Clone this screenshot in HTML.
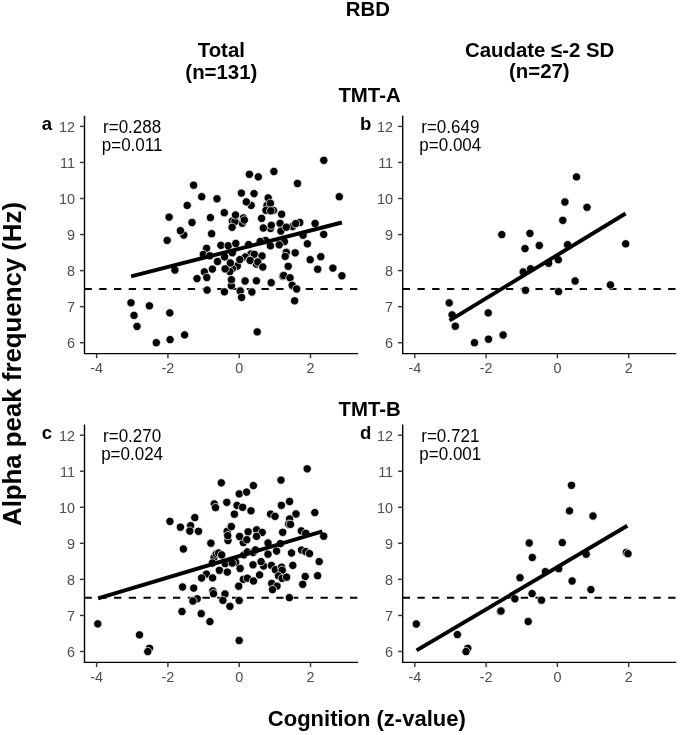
<!DOCTYPE html><html><head><meta charset="utf-8"><style>
html,body{margin:0;padding:0;background:#fff;}
body{width:685px;height:735px;overflow:hidden;}
svg{display:block;will-change:transform;}
text{font-family:"Liberation Sans",sans-serif;}
.t{font-size:14.4px;fill:#4d4d4d;}
.ty{text-anchor:end;}
.tx{text-anchor:middle;}
.ann{font-size:17.0px;fill:#000;text-anchor:middle;}
.hd{font-size:20.4px;font-weight:bold;fill:#000;text-anchor:middle;}
.pl{font-size:18.6px;font-weight:bold;fill:#000;}
</style></head><body>
<svg width="685" height="735" viewBox="0 0 685 735">
<text class="hd" transform="translate(367.90 16.40) scale(1 1.03)" x="0" y="0">RBD</text>
<text class="hd" transform="translate(221.30 56.90) scale(1 1.03)" x="0" y="0">Total</text>
<text class="hd" transform="translate(221.30 78.80) scale(1 1.03)" x="0" y="0">(n=131)</text>
<text class="hd" transform="translate(539.60 56.60) scale(1 1.03)" x="0" y="0">Caudate ≤-2 SD</text>
<text class="hd" transform="translate(539.30 78.30) scale(1 1.03)" x="0" y="0">(n=27)</text>
<text class="hd" transform="translate(369.50 101.90) scale(1 1.03)" x="0" y="0">TMT-A</text>
<text class="hd" transform="translate(369.70 415.70) scale(1 1.03)" x="0" y="0">TMT-B</text>
<text x="21.2" y="364" transform="rotate(-90 21.2 364)" style="font-size:25.8px;font-weight:bold;text-anchor:middle;fill:#000">Alpha peak frequency (Hz)</text>
<text style="font-size:22px;font-weight:bold;text-anchor:middle;fill:#000" transform="translate(366.80 725.60) scale(1 1.03)" x="0" y="0">Cognition (z-value)</text>
<line x1="84.50" y1="288.93" x2="358.10" y2="288.93" stroke="#000" stroke-width="2.0" stroke-dasharray="7.3 7.45"/>
<circle cx="268.6" cy="207.3" r="4.15" fill="#000" stroke="#fff" stroke-width="0.75"/>
<circle cx="267.0" cy="205.5" r="4.15" fill="#000" stroke="#fff" stroke-width="0.75"/>
<circle cx="266.0" cy="210.3" r="4.15" fill="#000" stroke="#fff" stroke-width="0.75"/>
<circle cx="273.4" cy="210.4" r="4.15" fill="#000" stroke="#fff" stroke-width="0.75"/>
<circle cx="299.8" cy="222.5" r="4.15" fill="#000" stroke="#fff" stroke-width="0.75"/>
<circle cx="292.5" cy="226.5" r="4.15" fill="#000" stroke="#fff" stroke-width="0.75"/>
<circle cx="270.5" cy="228.4" r="4.15" fill="#000" stroke="#fff" stroke-width="0.75"/>
<circle cx="284.4" cy="241.6" r="4.15" fill="#000" stroke="#fff" stroke-width="0.75"/>
<circle cx="286.3" cy="252.2" r="4.15" fill="#000" stroke="#fff" stroke-width="0.75"/>
<circle cx="265.6" cy="240.5" r="4.15" fill="#000" stroke="#fff" stroke-width="0.75"/>
<circle cx="251.0" cy="254.0" r="4.15" fill="#000" stroke="#fff" stroke-width="0.75"/>
<circle cx="245.3" cy="257.0" r="4.15" fill="#000" stroke="#fff" stroke-width="0.75"/>
<circle cx="250.0" cy="260.3" r="4.15" fill="#000" stroke="#fff" stroke-width="0.75"/>
<circle cx="256.3" cy="264.0" r="4.15" fill="#000" stroke="#fff" stroke-width="0.75"/>
<circle cx="242.3" cy="223.2" r="4.15" fill="#000" stroke="#fff" stroke-width="0.75"/>
<circle cx="237.3" cy="266.0" r="4.15" fill="#000" stroke="#fff" stroke-width="0.75"/>
<circle cx="232.4" cy="268.6" r="4.15" fill="#000" stroke="#fff" stroke-width="0.75"/>
<circle cx="229.8" cy="271.5" r="4.15" fill="#000" stroke="#fff" stroke-width="0.75"/>
<circle cx="231.4" cy="285.7" r="4.15" fill="#000" stroke="#fff" stroke-width="0.75"/>
<circle cx="282.8" cy="276.2" r="4.15" fill="#000" stroke="#fff" stroke-width="0.75"/>
<circle cx="240.5" cy="290.8" r="4.15" fill="#000" stroke="#fff" stroke-width="0.75"/>
<circle cx="232.3" cy="221.1" r="4.15" fill="#000" stroke="#fff" stroke-width="0.75"/>
<circle cx="243.4" cy="217.9" r="4.15" fill="#000" stroke="#fff" stroke-width="0.75"/>
<circle cx="234.9" cy="221.5" r="4.15" fill="#000" stroke="#fff" stroke-width="0.75"/>
<circle cx="251.2" cy="205.4" r="4.15" fill="#000" stroke="#fff" stroke-width="0.75"/>
<circle cx="183.8" cy="235.0" r="4.15" fill="#000" stroke="#fff" stroke-width="0.75"/>
<circle cx="323.8" cy="160.3" r="4.15" fill="#000" stroke="#fff" stroke-width="0.75"/>
<circle cx="249.4" cy="174.3" r="4.15" fill="#000" stroke="#fff" stroke-width="0.75"/>
<circle cx="258.3" cy="176.9" r="4.15" fill="#000" stroke="#fff" stroke-width="0.75"/>
<circle cx="273.9" cy="171.5" r="4.15" fill="#000" stroke="#fff" stroke-width="0.75"/>
<circle cx="193.6" cy="185.2" r="4.15" fill="#000" stroke="#fff" stroke-width="0.75"/>
<circle cx="297.5" cy="183.5" r="4.15" fill="#000" stroke="#fff" stroke-width="0.75"/>
<circle cx="339.3" cy="196.7" r="4.15" fill="#000" stroke="#fff" stroke-width="0.75"/>
<circle cx="201.7" cy="196.7" r="4.15" fill="#000" stroke="#fff" stroke-width="0.75"/>
<circle cx="217.0" cy="198.8" r="4.15" fill="#000" stroke="#fff" stroke-width="0.75"/>
<circle cx="187.2" cy="205.4" r="4.15" fill="#000" stroke="#fff" stroke-width="0.75"/>
<circle cx="241.4" cy="193.1" r="4.15" fill="#000" stroke="#fff" stroke-width="0.75"/>
<circle cx="254.0" cy="193.6" r="4.15" fill="#000" stroke="#fff" stroke-width="0.75"/>
<circle cx="268.2" cy="197.9" r="4.15" fill="#000" stroke="#fff" stroke-width="0.75"/>
<circle cx="270.4" cy="203.3" r="4.15" fill="#000" stroke="#fff" stroke-width="0.75"/>
<circle cx="270.8" cy="210.8" r="4.15" fill="#000" stroke="#fff" stroke-width="0.75"/>
<circle cx="246.3" cy="201.9" r="4.15" fill="#000" stroke="#fff" stroke-width="0.75"/>
<circle cx="281.6" cy="214.2" r="4.15" fill="#000" stroke="#fff" stroke-width="0.75"/>
<circle cx="224.3" cy="212.7" r="4.15" fill="#000" stroke="#fff" stroke-width="0.75"/>
<circle cx="235.5" cy="215.0" r="4.15" fill="#000" stroke="#fff" stroke-width="0.75"/>
<circle cx="210.4" cy="217.6" r="4.15" fill="#000" stroke="#fff" stroke-width="0.75"/>
<circle cx="169.1" cy="217.1" r="4.15" fill="#000" stroke="#fff" stroke-width="0.75"/>
<circle cx="192.0" cy="222.5" r="4.15" fill="#000" stroke="#fff" stroke-width="0.75"/>
<circle cx="232.1" cy="227.3" r="4.15" fill="#000" stroke="#fff" stroke-width="0.75"/>
<circle cx="244.3" cy="220.1" r="4.15" fill="#000" stroke="#fff" stroke-width="0.75"/>
<circle cx="261.6" cy="218.4" r="4.15" fill="#000" stroke="#fff" stroke-width="0.75"/>
<circle cx="263.3" cy="228.0" r="4.15" fill="#000" stroke="#fff" stroke-width="0.75"/>
<circle cx="271.3" cy="225.3" r="4.15" fill="#000" stroke="#fff" stroke-width="0.75"/>
<circle cx="280.1" cy="223.4" r="4.15" fill="#000" stroke="#fff" stroke-width="0.75"/>
<circle cx="280.9" cy="231.1" r="4.15" fill="#000" stroke="#fff" stroke-width="0.75"/>
<circle cx="286.3" cy="227.2" r="4.15" fill="#000" stroke="#fff" stroke-width="0.75"/>
<circle cx="295.6" cy="223.6" r="4.15" fill="#000" stroke="#fff" stroke-width="0.75"/>
<circle cx="315.1" cy="223.5" r="4.15" fill="#000" stroke="#fff" stroke-width="0.75"/>
<circle cx="303.1" cy="235.2" r="4.15" fill="#000" stroke="#fff" stroke-width="0.75"/>
<circle cx="323.7" cy="234.4" r="4.15" fill="#000" stroke="#fff" stroke-width="0.75"/>
<circle cx="307.4" cy="243.8" r="4.15" fill="#000" stroke="#fff" stroke-width="0.75"/>
<circle cx="180.4" cy="230.7" r="4.15" fill="#000" stroke="#fff" stroke-width="0.75"/>
<circle cx="211.6" cy="233.7" r="4.15" fill="#000" stroke="#fff" stroke-width="0.75"/>
<circle cx="167.2" cy="240.4" r="4.15" fill="#000" stroke="#fff" stroke-width="0.75"/>
<circle cx="206.6" cy="248.3" r="4.15" fill="#000" stroke="#fff" stroke-width="0.75"/>
<circle cx="203.3" cy="254.5" r="4.15" fill="#000" stroke="#fff" stroke-width="0.75"/>
<circle cx="209.8" cy="255.8" r="4.15" fill="#000" stroke="#fff" stroke-width="0.75"/>
<circle cx="220.9" cy="245.3" r="4.15" fill="#000" stroke="#fff" stroke-width="0.75"/>
<circle cx="228.2" cy="245.8" r="4.15" fill="#000" stroke="#fff" stroke-width="0.75"/>
<circle cx="235.8" cy="243.5" r="4.15" fill="#000" stroke="#fff" stroke-width="0.75"/>
<circle cx="248.6" cy="244.6" r="4.15" fill="#000" stroke="#fff" stroke-width="0.75"/>
<circle cx="260.2" cy="241.5" r="4.15" fill="#000" stroke="#fff" stroke-width="0.75"/>
<circle cx="270.4" cy="245.8" r="4.15" fill="#000" stroke="#fff" stroke-width="0.75"/>
<circle cx="279.2" cy="244.8" r="4.15" fill="#000" stroke="#fff" stroke-width="0.75"/>
<circle cx="232.3" cy="252.8" r="4.15" fill="#000" stroke="#fff" stroke-width="0.75"/>
<circle cx="224.6" cy="256.9" r="4.15" fill="#000" stroke="#fff" stroke-width="0.75"/>
<circle cx="217.5" cy="261.5" r="4.15" fill="#000" stroke="#fff" stroke-width="0.75"/>
<circle cx="230.3" cy="263.0" r="4.15" fill="#000" stroke="#fff" stroke-width="0.75"/>
<circle cx="239.8" cy="259.6" r="4.15" fill="#000" stroke="#fff" stroke-width="0.75"/>
<circle cx="254.3" cy="254.3" r="4.15" fill="#000" stroke="#fff" stroke-width="0.75"/>
<circle cx="250.2" cy="260.4" r="4.15" fill="#000" stroke="#fff" stroke-width="0.75"/>
<circle cx="262.0" cy="256.0" r="4.15" fill="#000" stroke="#fff" stroke-width="0.75"/>
<circle cx="257.8" cy="262.0" r="4.15" fill="#000" stroke="#fff" stroke-width="0.75"/>
<circle cx="262.8" cy="267.0" r="4.15" fill="#000" stroke="#fff" stroke-width="0.75"/>
<circle cx="212.4" cy="269.1" r="4.15" fill="#000" stroke="#fff" stroke-width="0.75"/>
<circle cx="204.4" cy="271.9" r="4.15" fill="#000" stroke="#fff" stroke-width="0.75"/>
<circle cx="206.8" cy="277.5" r="4.15" fill="#000" stroke="#fff" stroke-width="0.75"/>
<circle cx="197.0" cy="278.6" r="4.15" fill="#000" stroke="#fff" stroke-width="0.75"/>
<circle cx="225.1" cy="268.9" r="4.15" fill="#000" stroke="#fff" stroke-width="0.75"/>
<circle cx="231.4" cy="279.7" r="4.15" fill="#000" stroke="#fff" stroke-width="0.75"/>
<circle cx="245.1" cy="281.0" r="4.15" fill="#000" stroke="#fff" stroke-width="0.75"/>
<circle cx="256.4" cy="280.8" r="4.15" fill="#000" stroke="#fff" stroke-width="0.75"/>
<circle cx="174.9" cy="270.1" r="4.15" fill="#000" stroke="#fff" stroke-width="0.75"/>
<circle cx="207.1" cy="290.1" r="4.15" fill="#000" stroke="#fff" stroke-width="0.75"/>
<circle cx="224.4" cy="291.8" r="4.15" fill="#000" stroke="#fff" stroke-width="0.75"/>
<circle cx="240.2" cy="291.0" r="4.15" fill="#000" stroke="#fff" stroke-width="0.75"/>
<circle cx="241.6" cy="297.4" r="4.15" fill="#000" stroke="#fff" stroke-width="0.75"/>
<circle cx="251.9" cy="292.0" r="4.15" fill="#000" stroke="#fff" stroke-width="0.75"/>
<circle cx="286.3" cy="252.5" r="4.15" fill="#000" stroke="#fff" stroke-width="0.75"/>
<circle cx="295.2" cy="252.8" r="4.15" fill="#000" stroke="#fff" stroke-width="0.75"/>
<circle cx="285.2" cy="256.4" r="4.15" fill="#000" stroke="#fff" stroke-width="0.75"/>
<circle cx="310.2" cy="259.7" r="4.15" fill="#000" stroke="#fff" stroke-width="0.75"/>
<circle cx="320.8" cy="256.7" r="4.15" fill="#000" stroke="#fff" stroke-width="0.75"/>
<circle cx="288.2" cy="266.3" r="4.15" fill="#000" stroke="#fff" stroke-width="0.75"/>
<circle cx="317.7" cy="269.2" r="4.15" fill="#000" stroke="#fff" stroke-width="0.75"/>
<circle cx="332.9" cy="268.1" r="4.15" fill="#000" stroke="#fff" stroke-width="0.75"/>
<circle cx="341.9" cy="275.8" r="4.15" fill="#000" stroke="#fff" stroke-width="0.75"/>
<circle cx="283.7" cy="275.5" r="4.15" fill="#000" stroke="#fff" stroke-width="0.75"/>
<circle cx="290.0" cy="277.8" r="4.15" fill="#000" stroke="#fff" stroke-width="0.75"/>
<circle cx="271.2" cy="282.7" r="4.15" fill="#000" stroke="#fff" stroke-width="0.75"/>
<circle cx="292.2" cy="285.3" r="4.15" fill="#000" stroke="#fff" stroke-width="0.75"/>
<circle cx="296.7" cy="289.0" r="4.15" fill="#000" stroke="#fff" stroke-width="0.75"/>
<circle cx="294.6" cy="300.8" r="4.15" fill="#000" stroke="#fff" stroke-width="0.75"/>
<circle cx="131.0" cy="302.8" r="4.15" fill="#000" stroke="#fff" stroke-width="0.75"/>
<circle cx="134.0" cy="315.4" r="4.15" fill="#000" stroke="#fff" stroke-width="0.75"/>
<circle cx="137.0" cy="326.4" r="4.15" fill="#000" stroke="#fff" stroke-width="0.75"/>
<circle cx="149.4" cy="305.8" r="4.15" fill="#000" stroke="#fff" stroke-width="0.75"/>
<circle cx="169.8" cy="312.9" r="4.15" fill="#000" stroke="#fff" stroke-width="0.75"/>
<circle cx="156.3" cy="342.7" r="4.15" fill="#000" stroke="#fff" stroke-width="0.75"/>
<circle cx="170.1" cy="339.6" r="4.15" fill="#000" stroke="#fff" stroke-width="0.75"/>
<circle cx="184.6" cy="334.9" r="4.15" fill="#000" stroke="#fff" stroke-width="0.75"/>
<circle cx="257.2" cy="331.9" r="4.15" fill="#000" stroke="#fff" stroke-width="0.75"/>
<line x1="131.1" y1="276.3" x2="341.9" y2="222.5" stroke="#000" stroke-width="3.9"/>
<path d="M84.50 115.80 V353.60 H358.10" fill="none" stroke="#000" stroke-width="1.4"/>
<line x1="79.90" y1="342.70" x2="84.50" y2="342.70" stroke="#333" stroke-width="1.4"/>
<text class="t ty" transform="translate(74.90 348.10) scale(1 1.04)" x="0" y="0">6</text>
<line x1="79.90" y1="306.65" x2="84.50" y2="306.65" stroke="#333" stroke-width="1.4"/>
<text class="t ty" transform="translate(74.90 312.05) scale(1 1.04)" x="0" y="0">7</text>
<line x1="79.90" y1="270.60" x2="84.50" y2="270.60" stroke="#333" stroke-width="1.4"/>
<text class="t ty" transform="translate(74.90 276.00) scale(1 1.04)" x="0" y="0">8</text>
<line x1="79.90" y1="234.55" x2="84.50" y2="234.55" stroke="#333" stroke-width="1.4"/>
<text class="t ty" transform="translate(74.90 239.95) scale(1 1.04)" x="0" y="0">9</text>
<line x1="79.90" y1="198.50" x2="84.50" y2="198.50" stroke="#333" stroke-width="1.4"/>
<text class="t ty" transform="translate(74.90 203.90) scale(1 1.04)" x="0" y="0">10</text>
<line x1="79.90" y1="162.45" x2="84.50" y2="162.45" stroke="#333" stroke-width="1.4"/>
<text class="t ty" transform="translate(74.90 167.85) scale(1 1.04)" x="0" y="0">11</text>
<line x1="79.90" y1="126.40" x2="84.50" y2="126.40" stroke="#333" stroke-width="1.4"/>
<text class="t ty" transform="translate(74.90 131.80) scale(1 1.04)" x="0" y="0">12</text>
<line x1="96.60" y1="353.60" x2="96.60" y2="358.20" stroke="#333" stroke-width="1.4"/>
<text class="t tx" transform="translate(96.60 373.20) scale(1 1.04)" x="0" y="0">-4</text>
<line x1="167.90" y1="353.60" x2="167.90" y2="358.20" stroke="#333" stroke-width="1.4"/>
<text class="t tx" transform="translate(167.90 373.20) scale(1 1.04)" x="0" y="0">-2</text>
<line x1="239.20" y1="353.60" x2="239.20" y2="358.20" stroke="#333" stroke-width="1.4"/>
<text class="t tx" transform="translate(239.20 373.20) scale(1 1.04)" x="0" y="0">0</text>
<line x1="310.50" y1="353.60" x2="310.50" y2="358.20" stroke="#333" stroke-width="1.4"/>
<text class="t tx" transform="translate(310.50 373.20) scale(1 1.04)" x="0" y="0">2</text>
<text class="ann" transform="translate(132.10 132.80) scale(1 1.04)" x="0" y="0">r=0.288</text>
<text class="ann" transform="translate(132.10 150.80) scale(1 1.04)" x="0" y="0">p=0.011</text>
<text class="pl" x="41.70" y="130.30">a</text>
<line x1="402.70" y1="288.93" x2="676.30" y2="288.93" stroke="#000" stroke-width="2.0" stroke-dasharray="7.3 7.45"/>
<circle cx="449.2" cy="302.9" r="4.15" fill="#000" stroke="#fff" stroke-width="0.75"/>
<circle cx="452.1" cy="314.9" r="4.15" fill="#000" stroke="#fff" stroke-width="0.75"/>
<circle cx="455.3" cy="326.2" r="4.15" fill="#000" stroke="#fff" stroke-width="0.75"/>
<circle cx="488.2" cy="312.9" r="4.15" fill="#000" stroke="#fff" stroke-width="0.75"/>
<circle cx="474.5" cy="342.7" r="4.15" fill="#000" stroke="#fff" stroke-width="0.75"/>
<circle cx="488.5" cy="339.2" r="4.15" fill="#000" stroke="#fff" stroke-width="0.75"/>
<circle cx="503.1" cy="335.0" r="4.15" fill="#000" stroke="#fff" stroke-width="0.75"/>
<circle cx="501.8" cy="234.6" r="4.15" fill="#000" stroke="#fff" stroke-width="0.75"/>
<circle cx="529.9" cy="233.4" r="4.15" fill="#000" stroke="#fff" stroke-width="0.75"/>
<circle cx="525.0" cy="248.6" r="4.15" fill="#000" stroke="#fff" stroke-width="0.75"/>
<circle cx="539.3" cy="245.5" r="4.15" fill="#000" stroke="#fff" stroke-width="0.75"/>
<circle cx="523.2" cy="272.0" r="4.15" fill="#000" stroke="#fff" stroke-width="0.75"/>
<circle cx="530.6" cy="268.8" r="4.15" fill="#000" stroke="#fff" stroke-width="0.75"/>
<circle cx="548.6" cy="263.2" r="4.15" fill="#000" stroke="#fff" stroke-width="0.75"/>
<circle cx="558.3" cy="259.7" r="4.15" fill="#000" stroke="#fff" stroke-width="0.75"/>
<circle cx="525.5" cy="290.3" r="4.15" fill="#000" stroke="#fff" stroke-width="0.75"/>
<circle cx="558.6" cy="291.6" r="4.15" fill="#000" stroke="#fff" stroke-width="0.75"/>
<circle cx="576.5" cy="176.9" r="4.15" fill="#000" stroke="#fff" stroke-width="0.75"/>
<circle cx="564.9" cy="202.0" r="4.15" fill="#000" stroke="#fff" stroke-width="0.75"/>
<circle cx="587.0" cy="207.3" r="4.15" fill="#000" stroke="#fff" stroke-width="0.75"/>
<circle cx="562.8" cy="220.3" r="4.15" fill="#000" stroke="#fff" stroke-width="0.75"/>
<circle cx="567.6" cy="244.7" r="4.15" fill="#000" stroke="#fff" stroke-width="0.75"/>
<circle cx="625.7" cy="243.8" r="4.15" fill="#000" stroke="#fff" stroke-width="0.75"/>
<circle cx="575.1" cy="281.0" r="4.15" fill="#000" stroke="#fff" stroke-width="0.75"/>
<circle cx="610.4" cy="284.9" r="4.15" fill="#000" stroke="#fff" stroke-width="0.75"/>
<line x1="449.5" y1="320.6" x2="625.6" y2="213.5" stroke="#000" stroke-width="3.9"/>
<path d="M402.70 115.80 V353.60 H676.30" fill="none" stroke="#000" stroke-width="1.4"/>
<line x1="398.10" y1="342.70" x2="402.70" y2="342.70" stroke="#333" stroke-width="1.4"/>
<text class="t ty" transform="translate(393.10 348.10) scale(1 1.04)" x="0" y="0">6</text>
<line x1="398.10" y1="306.65" x2="402.70" y2="306.65" stroke="#333" stroke-width="1.4"/>
<text class="t ty" transform="translate(393.10 312.05) scale(1 1.04)" x="0" y="0">7</text>
<line x1="398.10" y1="270.60" x2="402.70" y2="270.60" stroke="#333" stroke-width="1.4"/>
<text class="t ty" transform="translate(393.10 276.00) scale(1 1.04)" x="0" y="0">8</text>
<line x1="398.10" y1="234.55" x2="402.70" y2="234.55" stroke="#333" stroke-width="1.4"/>
<text class="t ty" transform="translate(393.10 239.95) scale(1 1.04)" x="0" y="0">9</text>
<line x1="398.10" y1="198.50" x2="402.70" y2="198.50" stroke="#333" stroke-width="1.4"/>
<text class="t ty" transform="translate(393.10 203.90) scale(1 1.04)" x="0" y="0">10</text>
<line x1="398.10" y1="162.45" x2="402.70" y2="162.45" stroke="#333" stroke-width="1.4"/>
<text class="t ty" transform="translate(393.10 167.85) scale(1 1.04)" x="0" y="0">11</text>
<line x1="398.10" y1="126.40" x2="402.70" y2="126.40" stroke="#333" stroke-width="1.4"/>
<text class="t ty" transform="translate(393.10 131.80) scale(1 1.04)" x="0" y="0">12</text>
<line x1="414.80" y1="353.60" x2="414.80" y2="358.20" stroke="#333" stroke-width="1.4"/>
<text class="t tx" transform="translate(414.80 373.20) scale(1 1.04)" x="0" y="0">-4</text>
<line x1="486.10" y1="353.60" x2="486.10" y2="358.20" stroke="#333" stroke-width="1.4"/>
<text class="t tx" transform="translate(486.10 373.20) scale(1 1.04)" x="0" y="0">-2</text>
<line x1="557.40" y1="353.60" x2="557.40" y2="358.20" stroke="#333" stroke-width="1.4"/>
<text class="t tx" transform="translate(557.40 373.20) scale(1 1.04)" x="0" y="0">0</text>
<line x1="628.70" y1="353.60" x2="628.70" y2="358.20" stroke="#333" stroke-width="1.4"/>
<text class="t tx" transform="translate(628.70 373.20) scale(1 1.04)" x="0" y="0">2</text>
<text class="ann" transform="translate(450.30 132.80) scale(1 1.04)" x="0" y="0">r=0.649</text>
<text class="ann" transform="translate(450.30 150.80) scale(1 1.04)" x="0" y="0">p=0.004</text>
<text class="pl" x="359.90" y="130.30">b</text>
<line x1="84.50" y1="597.73" x2="358.10" y2="597.73" stroke="#000" stroke-width="2.0" stroke-dasharray="7.3 7.45"/>
<circle cx="228.0" cy="540.5" r="4.15" fill="#000" stroke="#fff" stroke-width="0.75"/>
<circle cx="214.1" cy="557.5" r="4.15" fill="#000" stroke="#fff" stroke-width="0.75"/>
<circle cx="216.3" cy="554.0" r="4.15" fill="#000" stroke="#fff" stroke-width="0.75"/>
<circle cx="218.6" cy="553.0" r="4.15" fill="#000" stroke="#fff" stroke-width="0.75"/>
<circle cx="235.7" cy="562.4" r="4.15" fill="#000" stroke="#fff" stroke-width="0.75"/>
<circle cx="243.3" cy="542.6" r="4.15" fill="#000" stroke="#fff" stroke-width="0.75"/>
<circle cx="263.6" cy="566.0" r="4.15" fill="#000" stroke="#fff" stroke-width="0.75"/>
<circle cx="243.3" cy="579.4" r="4.15" fill="#000" stroke="#fff" stroke-width="0.75"/>
<circle cx="212.8" cy="591.0" r="4.15" fill="#000" stroke="#fff" stroke-width="0.75"/>
<circle cx="221.3" cy="482.8" r="4.15" fill="#000" stroke="#fff" stroke-width="0.75"/>
<circle cx="214.3" cy="503.9" r="4.15" fill="#000" stroke="#fff" stroke-width="0.75"/>
<circle cx="215.5" cy="507.6" r="4.15" fill="#000" stroke="#fff" stroke-width="0.75"/>
<circle cx="226.8" cy="502.3" r="4.15" fill="#000" stroke="#fff" stroke-width="0.75"/>
<circle cx="239.2" cy="493.9" r="4.15" fill="#000" stroke="#fff" stroke-width="0.75"/>
<circle cx="237.0" cy="505.4" r="4.15" fill="#000" stroke="#fff" stroke-width="0.75"/>
<circle cx="242.6" cy="507.3" r="4.15" fill="#000" stroke="#fff" stroke-width="0.75"/>
<circle cx="234.4" cy="514.2" r="4.15" fill="#000" stroke="#fff" stroke-width="0.75"/>
<circle cx="169.9" cy="521.4" r="4.15" fill="#000" stroke="#fff" stroke-width="0.75"/>
<circle cx="180.4" cy="527.2" r="4.15" fill="#000" stroke="#fff" stroke-width="0.75"/>
<circle cx="194.8" cy="517.6" r="4.15" fill="#000" stroke="#fff" stroke-width="0.75"/>
<circle cx="190.6" cy="525.7" r="4.15" fill="#000" stroke="#fff" stroke-width="0.75"/>
<circle cx="189.8" cy="531.1" r="4.15" fill="#000" stroke="#fff" stroke-width="0.75"/>
<circle cx="198.5" cy="531.3" r="4.15" fill="#000" stroke="#fff" stroke-width="0.75"/>
<circle cx="230.9" cy="526.4" r="4.15" fill="#000" stroke="#fff" stroke-width="0.75"/>
<circle cx="227.2" cy="531.3" r="4.15" fill="#000" stroke="#fff" stroke-width="0.75"/>
<circle cx="227.7" cy="535.6" r="4.15" fill="#000" stroke="#fff" stroke-width="0.75"/>
<circle cx="239.6" cy="536.5" r="4.15" fill="#000" stroke="#fff" stroke-width="0.75"/>
<circle cx="307.2" cy="468.8" r="4.15" fill="#000" stroke="#fff" stroke-width="0.75"/>
<circle cx="281.0" cy="480.1" r="4.15" fill="#000" stroke="#fff" stroke-width="0.75"/>
<circle cx="253.4" cy="485.6" r="4.15" fill="#000" stroke="#fff" stroke-width="0.75"/>
<circle cx="246.6" cy="492.1" r="4.15" fill="#000" stroke="#fff" stroke-width="0.75"/>
<circle cx="289.6" cy="501.5" r="4.15" fill="#000" stroke="#fff" stroke-width="0.75"/>
<circle cx="281.4" cy="505.3" r="4.15" fill="#000" stroke="#fff" stroke-width="0.75"/>
<circle cx="251.0" cy="510.8" r="4.15" fill="#000" stroke="#fff" stroke-width="0.75"/>
<circle cx="270.6" cy="514.1" r="4.15" fill="#000" stroke="#fff" stroke-width="0.75"/>
<circle cx="275.0" cy="516.3" r="4.15" fill="#000" stroke="#fff" stroke-width="0.75"/>
<circle cx="296.0" cy="514.0" r="4.15" fill="#000" stroke="#fff" stroke-width="0.75"/>
<circle cx="289.6" cy="519.0" r="4.15" fill="#000" stroke="#fff" stroke-width="0.75"/>
<circle cx="288.7" cy="524.2" r="4.15" fill="#000" stroke="#fff" stroke-width="0.75"/>
<circle cx="231.4" cy="526.6" r="4.15" fill="#000" stroke="#fff" stroke-width="0.75"/>
<circle cx="248.1" cy="531.8" r="4.15" fill="#000" stroke="#fff" stroke-width="0.75"/>
<circle cx="256.6" cy="529.8" r="4.15" fill="#000" stroke="#fff" stroke-width="0.75"/>
<circle cx="262.2" cy="532.4" r="4.15" fill="#000" stroke="#fff" stroke-width="0.75"/>
<circle cx="282.7" cy="532.3" r="4.15" fill="#000" stroke="#fff" stroke-width="0.75"/>
<circle cx="301.3" cy="530.9" r="4.15" fill="#000" stroke="#fff" stroke-width="0.75"/>
<circle cx="256.5" cy="536.4" r="4.15" fill="#000" stroke="#fff" stroke-width="0.75"/>
<circle cx="314.8" cy="512.6" r="4.15" fill="#000" stroke="#fff" stroke-width="0.75"/>
<circle cx="305.8" cy="533.3" r="4.15" fill="#000" stroke="#fff" stroke-width="0.75"/>
<circle cx="323.7" cy="536.2" r="4.15" fill="#000" stroke="#fff" stroke-width="0.75"/>
<circle cx="97.8" cy="623.9" r="4.15" fill="#000" stroke="#fff" stroke-width="0.75"/>
<circle cx="139.5" cy="634.9" r="4.15" fill="#000" stroke="#fff" stroke-width="0.75"/>
<circle cx="149.5" cy="648.3" r="4.15" fill="#000" stroke="#fff" stroke-width="0.75"/>
<circle cx="147.8" cy="651.6" r="4.15" fill="#000" stroke="#fff" stroke-width="0.75"/>
<circle cx="182.5" cy="587.0" r="4.15" fill="#000" stroke="#fff" stroke-width="0.75"/>
<circle cx="182.0" cy="611.5" r="4.15" fill="#000" stroke="#fff" stroke-width="0.75"/>
<circle cx="183.4" cy="549.0" r="4.15" fill="#000" stroke="#fff" stroke-width="0.75"/>
<circle cx="210.9" cy="543.2" r="4.15" fill="#000" stroke="#fff" stroke-width="0.75"/>
<circle cx="246.8" cy="539.7" r="4.15" fill="#000" stroke="#fff" stroke-width="0.75"/>
<circle cx="221.7" cy="554.9" r="4.15" fill="#000" stroke="#fff" stroke-width="0.75"/>
<circle cx="212.4" cy="563.0" r="4.15" fill="#000" stroke="#fff" stroke-width="0.75"/>
<circle cx="219.4" cy="570.3" r="4.15" fill="#000" stroke="#fff" stroke-width="0.75"/>
<circle cx="227.3" cy="572.1" r="4.15" fill="#000" stroke="#fff" stroke-width="0.75"/>
<circle cx="225.2" cy="563.6" r="4.15" fill="#000" stroke="#fff" stroke-width="0.75"/>
<circle cx="232.2" cy="563.0" r="4.15" fill="#000" stroke="#fff" stroke-width="0.75"/>
<circle cx="240.1" cy="568.5" r="4.15" fill="#000" stroke="#fff" stroke-width="0.75"/>
<circle cx="243.9" cy="554.9" r="4.15" fill="#000" stroke="#fff" stroke-width="0.75"/>
<circle cx="247.4" cy="551.9" r="4.15" fill="#000" stroke="#fff" stroke-width="0.75"/>
<circle cx="253.2" cy="552.5" r="4.15" fill="#000" stroke="#fff" stroke-width="0.75"/>
<circle cx="253.0" cy="564.8" r="4.15" fill="#000" stroke="#fff" stroke-width="0.75"/>
<circle cx="206.5" cy="574.1" r="4.15" fill="#000" stroke="#fff" stroke-width="0.75"/>
<circle cx="201.6" cy="578.0" r="4.15" fill="#000" stroke="#fff" stroke-width="0.75"/>
<circle cx="212.6" cy="577.9" r="4.15" fill="#000" stroke="#fff" stroke-width="0.75"/>
<circle cx="247.4" cy="578.2" r="4.15" fill="#000" stroke="#fff" stroke-width="0.75"/>
<circle cx="253.5" cy="581.0" r="4.15" fill="#000" stroke="#fff" stroke-width="0.75"/>
<circle cx="238.7" cy="586.2" r="4.15" fill="#000" stroke="#fff" stroke-width="0.75"/>
<circle cx="193.7" cy="588.1" r="4.15" fill="#000" stroke="#fff" stroke-width="0.75"/>
<circle cx="213.5" cy="593.7" r="4.15" fill="#000" stroke="#fff" stroke-width="0.75"/>
<circle cx="225.0" cy="594.0" r="4.15" fill="#000" stroke="#fff" stroke-width="0.75"/>
<circle cx="222.9" cy="600.4" r="4.15" fill="#000" stroke="#fff" stroke-width="0.75"/>
<circle cx="197.2" cy="598.8" r="4.15" fill="#000" stroke="#fff" stroke-width="0.75"/>
<circle cx="192.9" cy="601.0" r="4.15" fill="#000" stroke="#fff" stroke-width="0.75"/>
<circle cx="239.2" cy="600.5" r="4.15" fill="#000" stroke="#fff" stroke-width="0.75"/>
<circle cx="229.9" cy="606.3" r="4.15" fill="#000" stroke="#fff" stroke-width="0.75"/>
<circle cx="201.2" cy="613.7" r="4.15" fill="#000" stroke="#fff" stroke-width="0.75"/>
<circle cx="209.9" cy="621.6" r="4.15" fill="#000" stroke="#fff" stroke-width="0.75"/>
<circle cx="239.2" cy="640.5" r="4.15" fill="#000" stroke="#fff" stroke-width="0.75"/>
<circle cx="268.0" cy="543.0" r="4.15" fill="#000" stroke="#fff" stroke-width="0.75"/>
<circle cx="280.4" cy="543.6" r="4.15" fill="#000" stroke="#fff" stroke-width="0.75"/>
<circle cx="255.5" cy="549.9" r="4.15" fill="#000" stroke="#fff" stroke-width="0.75"/>
<circle cx="268.0" cy="554.2" r="4.15" fill="#000" stroke="#fff" stroke-width="0.75"/>
<circle cx="276.6" cy="551.1" r="4.15" fill="#000" stroke="#fff" stroke-width="0.75"/>
<circle cx="291.5" cy="553.0" r="4.15" fill="#000" stroke="#fff" stroke-width="0.75"/>
<circle cx="301.5" cy="550.1" r="4.15" fill="#000" stroke="#fff" stroke-width="0.75"/>
<circle cx="305.8" cy="551.7" r="4.15" fill="#000" stroke="#fff" stroke-width="0.75"/>
<circle cx="309.5" cy="553.6" r="4.15" fill="#000" stroke="#fff" stroke-width="0.75"/>
<circle cx="319.2" cy="561.6" r="4.15" fill="#000" stroke="#fff" stroke-width="0.75"/>
<circle cx="261.1" cy="561.6" r="4.15" fill="#000" stroke="#fff" stroke-width="0.75"/>
<circle cx="271.4" cy="565.4" r="4.15" fill="#000" stroke="#fff" stroke-width="0.75"/>
<circle cx="275.4" cy="569.7" r="4.15" fill="#000" stroke="#fff" stroke-width="0.75"/>
<circle cx="281.6" cy="567.2" r="4.15" fill="#000" stroke="#fff" stroke-width="0.75"/>
<circle cx="282.2" cy="570.3" r="4.15" fill="#000" stroke="#fff" stroke-width="0.75"/>
<circle cx="292.8" cy="565.4" r="4.15" fill="#000" stroke="#fff" stroke-width="0.75"/>
<circle cx="278.5" cy="575.9" r="4.15" fill="#000" stroke="#fff" stroke-width="0.75"/>
<circle cx="282.2" cy="578.4" r="4.15" fill="#000" stroke="#fff" stroke-width="0.75"/>
<circle cx="286.6" cy="577.2" r="4.15" fill="#000" stroke="#fff" stroke-width="0.75"/>
<circle cx="259.6" cy="574.9" r="4.15" fill="#000" stroke="#fff" stroke-width="0.75"/>
<circle cx="305.2" cy="576.5" r="4.15" fill="#000" stroke="#fff" stroke-width="0.75"/>
<circle cx="317.6" cy="575.7" r="4.15" fill="#000" stroke="#fff" stroke-width="0.75"/>
<circle cx="302.7" cy="584.3" r="4.15" fill="#000" stroke="#fff" stroke-width="0.75"/>
<circle cx="271.7" cy="583.4" r="4.15" fill="#000" stroke="#fff" stroke-width="0.75"/>
<circle cx="277.0" cy="586.1" r="4.15" fill="#000" stroke="#fff" stroke-width="0.75"/>
<circle cx="272.5" cy="589.6" r="4.15" fill="#000" stroke="#fff" stroke-width="0.75"/>
<circle cx="289.4" cy="597.6" r="4.15" fill="#000" stroke="#fff" stroke-width="0.75"/>
<circle cx="290.5" cy="524.4" r="4.15" fill="#000" stroke="#fff" stroke-width="0.75"/>
<line x1="98.1" y1="598.3" x2="322.3" y2="531.3" stroke="#000" stroke-width="3.9"/>
<path d="M84.50 424.60 V662.40 H358.10" fill="none" stroke="#000" stroke-width="1.4"/>
<line x1="79.90" y1="651.50" x2="84.50" y2="651.50" stroke="#333" stroke-width="1.4"/>
<text class="t ty" transform="translate(74.90 656.90) scale(1 1.04)" x="0" y="0">6</text>
<line x1="79.90" y1="615.45" x2="84.50" y2="615.45" stroke="#333" stroke-width="1.4"/>
<text class="t ty" transform="translate(74.90 620.85) scale(1 1.04)" x="0" y="0">7</text>
<line x1="79.90" y1="579.40" x2="84.50" y2="579.40" stroke="#333" stroke-width="1.4"/>
<text class="t ty" transform="translate(74.90 584.80) scale(1 1.04)" x="0" y="0">8</text>
<line x1="79.90" y1="543.35" x2="84.50" y2="543.35" stroke="#333" stroke-width="1.4"/>
<text class="t ty" transform="translate(74.90 548.75) scale(1 1.04)" x="0" y="0">9</text>
<line x1="79.90" y1="507.30" x2="84.50" y2="507.30" stroke="#333" stroke-width="1.4"/>
<text class="t ty" transform="translate(74.90 512.70) scale(1 1.04)" x="0" y="0">10</text>
<line x1="79.90" y1="471.25" x2="84.50" y2="471.25" stroke="#333" stroke-width="1.4"/>
<text class="t ty" transform="translate(74.90 476.65) scale(1 1.04)" x="0" y="0">11</text>
<line x1="79.90" y1="435.20" x2="84.50" y2="435.20" stroke="#333" stroke-width="1.4"/>
<text class="t ty" transform="translate(74.90 440.60) scale(1 1.04)" x="0" y="0">12</text>
<line x1="96.60" y1="662.40" x2="96.60" y2="667.00" stroke="#333" stroke-width="1.4"/>
<text class="t tx" transform="translate(96.60 682.00) scale(1 1.04)" x="0" y="0">-4</text>
<line x1="167.90" y1="662.40" x2="167.90" y2="667.00" stroke="#333" stroke-width="1.4"/>
<text class="t tx" transform="translate(167.90 682.00) scale(1 1.04)" x="0" y="0">-2</text>
<line x1="239.20" y1="662.40" x2="239.20" y2="667.00" stroke="#333" stroke-width="1.4"/>
<text class="t tx" transform="translate(239.20 682.00) scale(1 1.04)" x="0" y="0">0</text>
<line x1="310.50" y1="662.40" x2="310.50" y2="667.00" stroke="#333" stroke-width="1.4"/>
<text class="t tx" transform="translate(310.50 682.00) scale(1 1.04)" x="0" y="0">2</text>
<text class="ann" transform="translate(132.10 441.60) scale(1 1.04)" x="0" y="0">r=0.270</text>
<text class="ann" transform="translate(132.10 459.60) scale(1 1.04)" x="0" y="0">p=0.024</text>
<text class="pl" x="41.70" y="439.10">c</text>
<line x1="402.70" y1="597.73" x2="676.30" y2="597.73" stroke="#000" stroke-width="2.0" stroke-dasharray="7.3 7.45"/>
<circle cx="416.3" cy="624.0" r="4.15" fill="#000" stroke="#fff" stroke-width="0.75"/>
<circle cx="457.4" cy="634.6" r="4.15" fill="#000" stroke="#fff" stroke-width="0.75"/>
<circle cx="467.8" cy="648.3" r="4.15" fill="#000" stroke="#fff" stroke-width="0.75"/>
<circle cx="466.0" cy="651.6" r="4.15" fill="#000" stroke="#fff" stroke-width="0.75"/>
<circle cx="500.3" cy="611.4" r="4.15" fill="#000" stroke="#fff" stroke-width="0.75"/>
<circle cx="528.2" cy="621.5" r="4.15" fill="#000" stroke="#fff" stroke-width="0.75"/>
<circle cx="571.5" cy="485.3" r="4.15" fill="#000" stroke="#fff" stroke-width="0.75"/>
<circle cx="569.5" cy="510.9" r="4.15" fill="#000" stroke="#fff" stroke-width="0.75"/>
<circle cx="593.0" cy="516.0" r="4.15" fill="#000" stroke="#fff" stroke-width="0.75"/>
<circle cx="529.2" cy="543.0" r="4.15" fill="#000" stroke="#fff" stroke-width="0.75"/>
<circle cx="562.3" cy="542.6" r="4.15" fill="#000" stroke="#fff" stroke-width="0.75"/>
<circle cx="532.3" cy="557.5" r="4.15" fill="#000" stroke="#fff" stroke-width="0.75"/>
<circle cx="626.3" cy="552.5" r="4.15" fill="#000" stroke="#fff" stroke-width="0.75"/>
<circle cx="628.0" cy="553.7" r="4.15" fill="#000" stroke="#fff" stroke-width="0.75"/>
<circle cx="586.2" cy="554.2" r="4.15" fill="#000" stroke="#fff" stroke-width="0.75"/>
<circle cx="545.4" cy="571.6" r="4.15" fill="#000" stroke="#fff" stroke-width="0.75"/>
<circle cx="558.7" cy="568.7" r="4.15" fill="#000" stroke="#fff" stroke-width="0.75"/>
<circle cx="520.0" cy="577.7" r="4.15" fill="#000" stroke="#fff" stroke-width="0.75"/>
<circle cx="572.1" cy="581.0" r="4.15" fill="#000" stroke="#fff" stroke-width="0.75"/>
<circle cx="590.9" cy="589.6" r="4.15" fill="#000" stroke="#fff" stroke-width="0.75"/>
<circle cx="532.1" cy="593.6" r="4.15" fill="#000" stroke="#fff" stroke-width="0.75"/>
<circle cx="514.9" cy="598.8" r="4.15" fill="#000" stroke="#fff" stroke-width="0.75"/>
<circle cx="541.5" cy="600.2" r="4.15" fill="#000" stroke="#fff" stroke-width="0.75"/>
<circle cx="501.0" cy="611.0" r="4.15" fill="#000" stroke="#fff" stroke-width="0.75"/>
<line x1="416.6" y1="650.4" x2="627.3" y2="525.8" stroke="#000" stroke-width="3.9"/>
<path d="M402.70 424.60 V662.40 H676.30" fill="none" stroke="#000" stroke-width="1.4"/>
<line x1="398.10" y1="651.50" x2="402.70" y2="651.50" stroke="#333" stroke-width="1.4"/>
<text class="t ty" transform="translate(393.10 656.90) scale(1 1.04)" x="0" y="0">6</text>
<line x1="398.10" y1="615.45" x2="402.70" y2="615.45" stroke="#333" stroke-width="1.4"/>
<text class="t ty" transform="translate(393.10 620.85) scale(1 1.04)" x="0" y="0">7</text>
<line x1="398.10" y1="579.40" x2="402.70" y2="579.40" stroke="#333" stroke-width="1.4"/>
<text class="t ty" transform="translate(393.10 584.80) scale(1 1.04)" x="0" y="0">8</text>
<line x1="398.10" y1="543.35" x2="402.70" y2="543.35" stroke="#333" stroke-width="1.4"/>
<text class="t ty" transform="translate(393.10 548.75) scale(1 1.04)" x="0" y="0">9</text>
<line x1="398.10" y1="507.30" x2="402.70" y2="507.30" stroke="#333" stroke-width="1.4"/>
<text class="t ty" transform="translate(393.10 512.70) scale(1 1.04)" x="0" y="0">10</text>
<line x1="398.10" y1="471.25" x2="402.70" y2="471.25" stroke="#333" stroke-width="1.4"/>
<text class="t ty" transform="translate(393.10 476.65) scale(1 1.04)" x="0" y="0">11</text>
<line x1="398.10" y1="435.20" x2="402.70" y2="435.20" stroke="#333" stroke-width="1.4"/>
<text class="t ty" transform="translate(393.10 440.60) scale(1 1.04)" x="0" y="0">12</text>
<line x1="414.80" y1="662.40" x2="414.80" y2="667.00" stroke="#333" stroke-width="1.4"/>
<text class="t tx" transform="translate(414.80 682.00) scale(1 1.04)" x="0" y="0">-4</text>
<line x1="486.10" y1="662.40" x2="486.10" y2="667.00" stroke="#333" stroke-width="1.4"/>
<text class="t tx" transform="translate(486.10 682.00) scale(1 1.04)" x="0" y="0">-2</text>
<line x1="557.40" y1="662.40" x2="557.40" y2="667.00" stroke="#333" stroke-width="1.4"/>
<text class="t tx" transform="translate(557.40 682.00) scale(1 1.04)" x="0" y="0">0</text>
<line x1="628.70" y1="662.40" x2="628.70" y2="667.00" stroke="#333" stroke-width="1.4"/>
<text class="t tx" transform="translate(628.70 682.00) scale(1 1.04)" x="0" y="0">2</text>
<text class="ann" transform="translate(450.30 441.60) scale(1 1.04)" x="0" y="0">r=0.721</text>
<text class="ann" transform="translate(450.30 459.60) scale(1 1.04)" x="0" y="0">p=0.001</text>
<text class="pl" x="359.90" y="439.10">d</text>
</svg></body></html>
